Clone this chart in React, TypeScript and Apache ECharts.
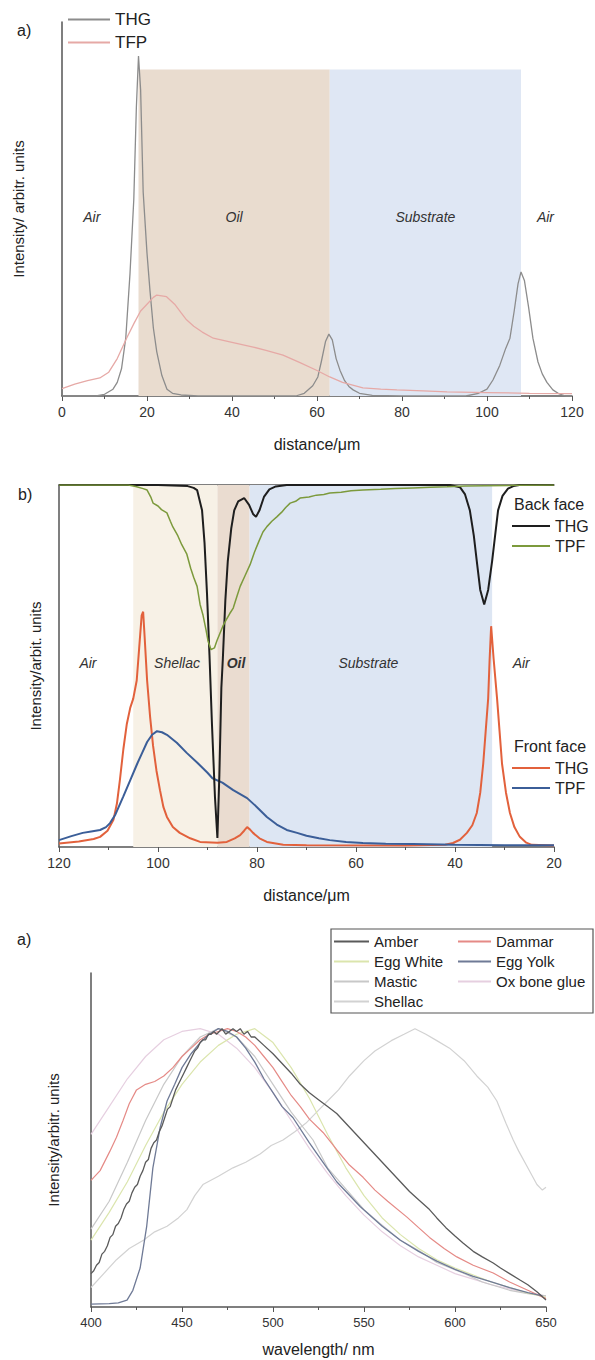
import React, { useEffect, useRef } from "react";
import * as echarts from "echarts";

const FONT = "'Liberation Sans', Arial, sans-serif";

// ---------- Panel a (top): distance / um ----------
const thgA: number[][] = [
  [0, 0], [8, 0], [10, 0.005], [12, 0.02], [13, 0.04], [14, 0.08], [15, 0.17], [16, 0.36], [16.9, 0.58], [17.5, 0.85], [18, 1.0],
  [18.5, 0.9], [19.1, 0.6], [20, 0.42], [20.7, 0.31], [21.5, 0.2], [22.3, 0.13], [23.5, 0.06], [24.7, 0.02], [26, 0.008], [28, 0.003], [32, 0],
  [55, 0], [57, 0.008], [59, 0.03], [60.2, 0.056], [61, 0.1], [62, 0.16], [62.8, 0.182], [63.6, 0.165], [64.5, 0.11], [65.4, 0.076],
  [66.5, 0.045], [67.5, 0.028], [68.5, 0.018], [70, 0.008], [73, 0.002], [80, 0],
  [95, 0], [98, 0.008], [100, 0.02], [101.4, 0.047], [103, 0.09], [104.4, 0.14], [105.4, 0.17], [106.4, 0.25], [107.3, 0.33], [108, 0.365],
  [108.8, 0.34], [109.8, 0.26], [110.8, 0.17], [112, 0.1], [113, 0.065], [114.1, 0.04], [115.5, 0.018], [117, 0.006], [118.5, 0], [120, 0],
];
const tfpA: number[][] = [
  [0, 0.022], [3, 0.035], [6, 0.045], [8.9, 0.053], [11, 0.07], [13, 0.11], [15.2, 0.17], [17, 0.215], [18.5, 0.25], [20, 0.27],
  [21.5, 0.29], [22.3, 0.297], [24.6, 0.292], [26.5, 0.27], [28, 0.245], [29.3, 0.224], [31, 0.205], [33, 0.188], [35.6, 0.17],
  [40, 0.158], [45, 0.144], [48, 0.134], [52, 0.12], [56, 0.098], [60, 0.075], [63, 0.056], [66, 0.04], [70.8, 0.024], [75, 0.02],
  [78.8, 0.018], [85, 0.015], [90.6, 0.012], [100, 0.01], [110, 0.008], [120, 0.007],
];

// ---------- Panel b (middle): distance / um, reversed ----------
const backThg: number[][] = [
  [120, 0], [100, 0], [94, 0.003], [92.8, 0.008], [92.1, 0.014], [91.1, 0.07], [90.6, 0.16], [90.1, 0.3], [89.6, 0.47], [89.1, 0.66],
  [88.5, 0.86], [88, 0.975], [87.6, 0.8], [87.2, 0.56], [86.9, 0.48], [86.4, 0.32], [85.9, 0.21], [85.2, 0.12], [84.6, 0.07],
  [83.8, 0.045], [82.6, 0.036], [81.6, 0.055], [80.8, 0.08], [80.2, 0.088], [79.5, 0.07], [78.6, 0.033], [77.5, 0.012], [76.2, 0.004], [74, 0],
  [41, 0], [39, 0.006], [38, 0.025], [37, 0.07], [36.2, 0.14], [35.6, 0.21], [34.9, 0.29], [34.1, 0.33], [33.3, 0.29], [32.5, 0.21],
  [31.9, 0.14], [31.3, 0.07], [30.4, 0.03], [29.3, 0.01], [28.2, 0.003], [27, 0], [20, 0],
];
const backTpf: number[][] = [
  [120, 0], [106, 0], [104.5, 0.004], [103, 0.01], [102.2, 0.014], [101.4, 0.035], [101, 0.05], [100, 0.058], [99.3, 0.068],
  [98.2, 0.077], [97.5, 0.1], [97, 0.116], [96, 0.14], [95.2, 0.165], [94.2, 0.19], [93.4, 0.23], [92.8, 0.255], [92.1, 0.28],
  [91.5, 0.33], [90.9, 0.36], [90.3, 0.4], [89.9, 0.43], [89.3, 0.455], [88.6, 0.45], [88.1, 0.43], [87.5, 0.41], [86.9, 0.39],
  [86.2, 0.372], [85.5, 0.355], [84.8, 0.34], [84, 0.305], [83.4, 0.28], [82.4, 0.25], [81.4, 0.22], [80.5, 0.185], [79.6, 0.155],
  [78.8, 0.13], [78, 0.115], [77, 0.1], [76, 0.088], [75, 0.075], [74.2, 0.062], [73.3, 0.05], [72.2, 0.045], [71.3, 0.036],
  [69.5, 0.033], [68, 0.028], [66.5, 0.026], [65.3, 0.022], [63, 0.02], [61, 0.016], [58.6, 0.014], [55, 0.012], [52, 0.01],
  [48.5, 0.008], [45, 0.006], [41.6, 0.005], [38, 0.003], [34, 0.002], [28, 0.001], [20, 0],
];
const frontThg: number[][] = [
  [120, 0.01], [116, 0.015], [113, 0.022], [111.7, 0.028], [110.2, 0.045], [109, 0.075], [108.3, 0.12], [107.7, 0.185], [107, 0.27],
  [106.3, 0.34], [105.6, 0.385], [105, 0.41], [104.3, 0.46], [103.8, 0.55], [103.3, 0.64], [103, 0.65], [102.7, 0.58], [102.2, 0.46],
  [101.6, 0.36], [101, 0.28], [100.3, 0.21], [99.6, 0.157], [98.9, 0.11], [98.2, 0.083], [97, 0.055], [95.6, 0.039], [93.5, 0.024],
  [91.5, 0.014], [88, 0.012], [86.1, 0.014], [84.5, 0.024], [83.4, 0.033], [82.6, 0.045], [82, 0.055], [81.4, 0.048], [80.8, 0.039],
  [79.5, 0.024], [78, 0.014], [74.7, 0.006], [70, 0.005], [50, 0.004], [42, 0.006], [40.4, 0.011], [39, 0.02], [37.6, 0.039],
  [36.5, 0.06], [35.6, 0.094], [34.9, 0.15], [34.3, 0.23], [33.8, 0.32], [33.3, 0.41], [33, 0.52], [32.7, 0.61], [32.2, 0.52],
  [31.5, 0.41], [31, 0.32], [30.5, 0.23], [29.7, 0.15], [28.9, 0.094], [28, 0.055], [26.9, 0.028], [25.6, 0.012], [24.5, 0.006], [20, 0.004],
];
const frontTpf: number[][] = [
  [120, 0.019], [117.5, 0.03], [115.2, 0.039], [113.5, 0.043], [111.7, 0.047], [110.5, 0.055], [109.7, 0.066], [108.6, 0.09],
  [107, 0.14], [105.6, 0.185], [104.2, 0.23], [103.2, 0.26], [102.2, 0.29], [101.2, 0.31], [100.2, 0.32], [99.2, 0.317],
  [98.2, 0.31], [96.2, 0.288], [94.2, 0.26], [92, 0.232], [90, 0.205], [89, 0.19], [87, 0.178], [84.8, 0.157], [82, 0.135],
  [80, 0.11], [78, 0.083], [76, 0.062], [74, 0.047], [71.9, 0.039], [70, 0.031], [67.5, 0.024], [65.3, 0.019], [62, 0.014],
  [58.6, 0.011], [54, 0.009], [48.5, 0.008], [40, 0.006], [30, 0.005], [20, 0.005],
];

// ---------- Panel c (bottom): wavelength / nm ----------
const amber: number[][] = [
  [400, 0.12], [401.5, 0.13], [403, 0.15], [404.5, 0.16], [406, 0.19], [407.5, 0.2], [409, 0.22], [410.5, 0.25], [412, 0.26],
  [413.5, 0.29], [415, 0.3], [416.5, 0.32], [418, 0.35], [419.5, 0.37], [421, 0.38], [422.5, 0.41], [424, 0.43], [425.5, 0.44],
  [427, 0.47], [428.5, 0.49], [430, 0.52], [431.5, 0.53], [433, 0.57], [434.5, 0.59], [436, 0.6], [437.5, 0.63], [439, 0.65],
  [440.5, 0.68], [442, 0.71], [443.5, 0.72], [445, 0.75], [446.5, 0.78], [448, 0.8], [449.5, 0.82], [451, 0.84], [452.5, 0.86],
  [454, 0.88], [455.5, 0.9], [457, 0.92], [458.5, 0.93], [460, 0.95], [461.5, 0.96], [463, 0.96], [464.5, 0.98], [466, 0.98],
  [467.5, 0.99], [469, 0.98], [470.5, 0.99], [472, 1.0], [474, 0.98], [476, 0.99], [478, 1.0], [480, 0.99], [482, 1.0],
  [484, 0.98], [486, 0.99], [488, 0.97], [490, 0.97], [495, 0.94], [500, 0.91], [505, 0.875], [510, 0.84], [515, 0.8],
  [520, 0.77], [525, 0.745], [530, 0.72], [535, 0.695], [540, 0.66], [545, 0.625], [550, 0.59], [555, 0.555], [560, 0.52],
  [565, 0.485], [570, 0.45], [575, 0.415], [580, 0.385], [586, 0.35], [590, 0.32], [595, 0.285], [600, 0.255], [604.4, 0.23],
  [610, 0.2], [615, 0.18], [621, 0.158], [625, 0.14], [630, 0.12], [635.7, 0.097], [640, 0.08], [645, 0.055], [650, 0.025],
];
const dammar: number[][] = [
  [400, 0.455], [405, 0.49], [410.4, 0.56], [414, 0.61], [417.6, 0.67], [421, 0.73], [425, 0.78], [430, 0.8], [435, 0.81],
  [440, 0.83], [445, 0.86], [450, 0.9], [455, 0.93], [460, 0.96], [465, 0.98], [470, 0.99], [475, 1.0], [480, 0.99], [485, 0.97],
  [490, 0.94], [495, 0.9], [500, 0.86], [505, 0.81], [510, 0.76], [515, 0.72], [520, 0.675], [527.5, 0.627], [535, 0.565],
  [542, 0.51], [549.5, 0.466], [556, 0.42], [563, 0.38], [573.6, 0.323], [580, 0.285], [586, 0.25], [594, 0.21], [601, 0.18],
  [610, 0.15], [621, 0.122], [630, 0.09], [640, 0.06], [650, 0.03],
];
const eggWhite: number[][] = [
  [400, 0.24], [410, 0.34], [420, 0.45], [430, 0.58], [440, 0.7], [450, 0.8], [460, 0.88], [470, 0.94], [480, 0.98], [490, 1.0],
  [500, 0.95], [510, 0.86], [520, 0.75], [530, 0.62], [540, 0.5], [550, 0.4], [560, 0.32], [570, 0.26], [580, 0.21], [590, 0.17],
  [600, 0.14], [610, 0.115], [620, 0.09], [630, 0.07], [640, 0.05], [650, 0.035],
];
const eggYolk: number[][] = [
  [400, 0.01], [410, 0.012], [415, 0.015], [419.8, 0.025], [423, 0.06], [427, 0.14], [430.6, 0.29], [434, 0.5], [438, 0.645],
  [441.8, 0.74], [446, 0.8], [450, 0.86], [455, 0.91], [460, 0.95], [465, 0.98], [470, 1.0], [475, 0.99], [480, 0.97], [485, 0.93],
  [490, 0.88], [495, 0.82], [500, 0.77], [505, 0.72], [511, 0.68], [520, 0.59], [527.5, 0.52], [535, 0.45], [548, 0.36],
  [560, 0.29], [570, 0.24], [580, 0.2], [590, 0.165], [600, 0.135], [610, 0.11], [620, 0.09], [630, 0.07], [640, 0.052], [648, 0.04],
];
const mastic: number[][] = [
  [400, 0.28], [410, 0.38], [420, 0.52], [430, 0.67], [440, 0.8], [450, 0.9], [460, 0.97], [470, 1.0], [480, 0.97], [490, 0.9],
  [500, 0.8], [510, 0.7], [522, 0.6], [530, 0.5], [540.6, 0.42], [550, 0.35], [558.8, 0.3], [570, 0.24], [580.8, 0.2],
  [590, 0.16], [604.4, 0.122], [615, 0.09], [630, 0.06], [640, 0.048], [650, 0.04],
];
const oxBoneGlue: number[][] = [
  [400, 0.62], [410, 0.72], [420, 0.82], [430, 0.9], [440, 0.96], [450, 0.99], [460, 1.0], [470, 0.98], [480, 0.93], [490, 0.86],
  [500, 0.77], [510, 0.67], [520, 0.57], [530, 0.48], [540, 0.4], [550, 0.33], [560, 0.27], [570, 0.22], [580, 0.18], [590, 0.15],
  [600, 0.12], [610, 0.1], [620, 0.08], [630, 0.065], [640, 0.05], [650, 0.04],
];
const shellac: number[][] = [
  [400, 0.07], [407, 0.12], [414, 0.17], [421, 0.21], [428.8, 0.24], [435, 0.27], [441.8, 0.29], [448, 0.32], [452.7, 0.35],
  [457, 0.4], [461.5, 0.44], [470, 0.47], [478, 0.5], [485, 0.52], [492.9, 0.55], [499, 0.58], [505.5, 0.6], [512, 0.63],
  [518, 0.66], [524, 0.7], [530, 0.74], [536, 0.78], [542, 0.83], [550, 0.885], [556, 0.92], [565, 0.957], [572, 0.98],
  [578, 1.0], [584, 0.98], [590, 0.957], [597, 0.93], [605, 0.885], [612, 0.83], [618, 0.79], [623, 0.74], [628, 0.66],
  [632, 0.6], [635, 0.56], [640, 0.5], [645, 0.44], [648, 0.42], [650, 0.43],
];

function lineSeries(name: string, data: number[][], color: string, width: number, xi: number, yi: number, extra: any = {}) {
  return {
    type: "line", name, data, xAxisIndex: xi, yAxisIndex: yi,
    showSymbol: false, symbol: "none", smooth: false,
    lineStyle: { color, width }, itemStyle: { color }, ...extra,
  };
}

const regionLabel = (pos: any, bold = false) => ({
  show: true, position: pos, align: "center", verticalAlign: "middle",
  fontSize: 14, fontStyle: "italic", fontWeight: bold ? "bold" : "normal", color: "#333", fontFamily: FONT,
});

const axisLineStyle = { lineStyle: { color: "#555", width: 1.5 } };

function xAxisBase(grid: number, min: number, max: number, interval: number, name: string, nameGap: number, fontSize: number) {
  return {
    gridIndex: grid, type: "value", min, max, interval,
    axisLine: { show: true, onZero: false, ...axisLineStyle },
    axisTick: { show: true, inside: false, length: 5, lineStyle: { color: "#555" } },
    minorTick: { show: true, splitNumber: 2, length: 3, lineStyle: { color: "#555" } },
    splitLine: { show: false },
    axisLabel: { fontSize, color: "#333", margin: 9, fontFamily: FONT },
    name, nameLocation: "middle", nameGap, nameTextStyle: { fontSize: 16, color: "#222", fontFamily: FONT },
  };
}

function yAxisBase(grid: number, max: number, name: string, nameGap: number) {
  return {
    gridIndex: grid, type: "value", min: 0, max,
    axisLine: { show: true, ...axisLineStyle },
    axisTick: { show: false }, axisLabel: { show: false }, splitLine: { show: false },
    name, nameLocation: "middle", nameGap, nameTextStyle: { fontSize: 15, color: "#222", fontFamily: FONT },
  };
}

const legendCommon = { orient: "vertical", padding: 0, icon: "rect", itemHeight: 2 };

export default function App() {
  const ref = useRef<HTMLDivElement>(null);
  useEffect(() => {
    if (!ref.current) return;
    const chart = echarts.init(ref.current, undefined, { renderer: "svg" });
    const stripFace = (n: string) => n.replace(/^(Back|Front) /, "");
    const option: any = {
      animation: false,
      backgroundColor: "#fff",
      textStyle: { fontFamily: FONT },
      title: [
        { text: "a)", left: 17, top: 22, padding: 0, textStyle: { fontSize: 16, fontWeight: "normal", color: "#222" } },
        { text: "b)", left: 18, top: 486, padding: 0, textStyle: { fontSize: 16, fontWeight: "normal", color: "#222" } },
        { text: "a)", left: 17, top: 931, padding: 0, textStyle: { fontSize: 16, fontWeight: "normal", color: "#222" } },
        { text: "Back face", left: 514, top: 496, padding: 0, textStyle: { fontSize: 16, fontWeight: "normal", color: "#222" } },
        { text: "Front face", left: 514, top: 738, padding: 0, textStyle: { fontSize: 16, fontWeight: "normal", color: "#222" } },
      ],
      legend: [
        {
          ...legendCommon, data: ["THG", "TFP"], left: 68, top: 11, itemGap: 6,
          itemWidth: 42, textStyle: { fontSize: 17, color: "#222" },
        },
        {
          ...legendCommon, data: ["Back THG", "Back TPF"], left: 512, top: 518, itemGap: 4,
          itemWidth: 38, formatter: stripFace, textStyle: { fontSize: 16, color: "#222" },
        },
        {
          ...legendCommon, data: ["Front THG", "Front TPF"], left: 512, top: 760, itemGap: 4,
          itemWidth: 38, formatter: stripFace, textStyle: { fontSize: 16, color: "#222" },
        },
        {
          ...legendCommon, data: ["Amber", "Egg White", "Mastic", "Shellac"], left: 334, top: 934, itemGap: 5,
          itemWidth: 35, textStyle: { fontSize: 15, color: "#222" },
        },
        {
          ...legendCommon, data: ["Dammar", "Egg Yolk", "Ox bone glue"], left: 458, top: 934, itemGap: 5,
          itemWidth: 33, textStyle: { fontSize: 15, color: "#222" },
        },
      ],
      graphic: [
        { type: "rect", shape: { x: 331, y: 929, width: 262, height: 84 }, style: { fill: "#fff", stroke: "#555", lineWidth: 1.2 }, z: 1 },
      ],
      grid: [
        { left: 62, top: 22, width: 510, height: 374 },
        { left: 59, top: 485, width: 495, height: 362 },
        { left: 91, top: 973, width: 455, height: 334 },
      ],
      xAxis: [
        xAxisBase(0, 0, 120, 20, "distance/\u03bcm", 40, 14),
        { ...xAxisBase(1, 20, 120, 20, "distance/\u03bcm", 40, 14), inverse: true },
        {
          gridIndex: 1, type: "value", min: 20, max: 120, inverse: true, position: "top",
          axisLine: { show: true, onZero: false, ...axisLineStyle }, axisTick: { show: false },
          axisLabel: { show: false }, splitLine: { show: false },
        },
        xAxisBase(2, 400, 650, 50, "wavelength/ nm", 34, 13),
      ],
      yAxis: [
        yAxisBase(0, 1.1, "Intensity/ arbitr. units", 36),
        yAxisBase(1, 1, "Intensity/arbit. units", 16),
        { gridIndex: 1, type: "value", min: 0, max: 1, inverse: true, show: false },
        yAxisBase(2, 1.2, "Intensity/arbitr. units", 30),
      ],
      series: [
        lineSeries("THG", thgA, "#8c8c8c", 1.3, 0, 0, {
          markArea: {
            silent: true,
            data: [
              [{ name: "Air", xAxis: 0, yAxis: 0, itemStyle: { color: "rgba(0,0,0,0)", opacity: 1 }, label: regionLabel(["39%", 147]) }, { xAxis: 18, yAxis: 0.96 }],
              [{ name: "Oil", xAxis: 18, yAxis: 0, itemStyle: { color: "#e9dccf", opacity: 1 }, label: regionLabel(["50%", 147]) }, { xAxis: 63, yAxis: 0.96 }],
              [{ name: "Substrate", xAxis: 63, yAxis: 0, itemStyle: { color: "#dfe7f4", opacity: 1 }, label: regionLabel(["50%", 147]) }, { xAxis: 108, yAxis: 0.96 }],
              [{ name: "Air", xAxis: 108, yAxis: 0, itemStyle: { color: "rgba(0,0,0,0)", opacity: 1 }, label: regionLabel(["48%", 147]) }, { xAxis: 120, yAxis: 0.96 }],
            ],
          },
        }),
        lineSeries("TFP", tfpA, "#e6a9a6", 1.3, 0, 0),
        lineSeries("Front THG", frontThg, "#e2613c", 2, 1, 1, {
          markArea: {
            silent: true,
            data: [
              [{ name: "Air", xAxis: 120, itemStyle: { color: "rgba(0,0,0,0)", opacity: 1 }, label: regionLabel(["39%", 178]) }, { xAxis: 105 }],
              [{ name: "Shellac", xAxis: 105, itemStyle: { color: "#f7f1e6", opacity: 1 }, label: regionLabel(["52%", 178]) }, { xAxis: 88 }],
              [{ name: "Oil", xAxis: 88, itemStyle: { color: "#eadcd0", opacity: 1 }, label: regionLabel(["58%", 178], true) }, { xAxis: 81.5 }],
              [{ name: "Substrate", xAxis: 81.5, itemStyle: { color: "#dde6f3", opacity: 1 }, label: regionLabel(["49%", 178]) }, { xAxis: 32.5 }],
              [{ name: "Air", xAxis: 32.5, itemStyle: { color: "rgba(0,0,0,0)", opacity: 1 }, label: regionLabel(["47%", 178]) }, { xAxis: 20 }],
            ],
          },
        }),
        lineSeries("Front TPF", frontTpf, "#3b5e98", 2, 1, 1),
        lineSeries("Back THG", backThg, "#1e1e1e", 2, 1, 2),
        lineSeries("Back TPF", backTpf, "#7c9a3c", 1.5, 1, 2),
        lineSeries("Shellac", shellac, "#d2d2d2", 1.2, 3, 3),
        lineSeries("Ox bone glue", oxBoneGlue, "#e6cfe0", 1.2, 3, 3),
        lineSeries("Mastic", mastic, "#c8c8c8", 1.2, 3, 3),
        lineSeries("Egg White", eggWhite, "#dbe5ad", 1.2, 3, 3),
        lineSeries("Dammar", dammar, "#e58a86", 1.2, 3, 3),
        lineSeries("Egg Yolk", eggYolk, "#6f7a96", 1.3, 3, 3),
        lineSeries("Amber", amber, "#5a5a5a", 1.3, 3, 3),
      ],
    };
    chart.setOption(option);
    return () => chart.dispose();
  }, []);
  return (
    <div style={{ position: "absolute", left: 0, top: 0, width: 595, height: 1360, background: "#fff" }}>
      <div ref={ref} style={{ width: 595, height: 1360 }} />
    </div>
  );
}
